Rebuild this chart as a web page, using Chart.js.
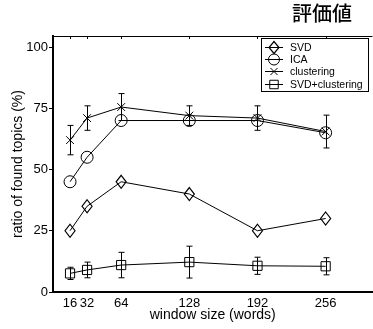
<!DOCTYPE html>
<html>
<head>
<meta charset="utf-8">
<script src="https://cdn.jsdelivr.net/npm/chart.js@4/dist/chart.umd.min.js"></script>
<style>
  html, body { margin: 0; padding: 0; background: #fff; overflow: hidden; }
  #wrap { width: 380px; height: 329px; position: relative; }
</style>
</head>
<body>
<div id="wrap"><canvas id="c" width="380" height="329"></canvas></div>
<script>
// Window sizes (words) on the x axis
const windowSizes = [16, 32, 64, 128, 192, 256];
const yTicks = [0, 25, 50, 75, 100];

// Ratio of found topics (%) per method
const svd = [25, 35, 45, 40, 25, 30];
const ica = [45, 55, 70, 70, 70, 65];
const clustering = [62, 71, 75.5, 72, 71, 65.5];
const clusteringErr = [6, 5, 5.5, 4, 5, 6.7];
const svdClustering = [7.6, 9, 11, 12.2, 10.7, 10.5];
const svdClusteringErr = [2.5, 3.2, 5.2, 6.5, 3.5, 3.5];

const seriesNames = ['SVD', 'ICA', 'clustering', 'SVD+clustering'];
const chartTitle = '評価値';
const xTitle = 'window size (words)';
const yTitle = 'ratio of found topics (%)';

const FONT = "'Liberation Sans', Arial, Helvetica, sans-serif";

// Hollow diamond, a little taller than wide
function strokeDiamond(ctx, cx, cy, hw, hh) {
  ctx.beginPath();
  ctx.moveTo(cx, cy - hh);
  ctx.lineTo(cx + hw, cy);
  ctx.lineTo(cx, cy + hh);
  ctx.lineTo(cx - hw, cy);
  ctx.closePath();
  ctx.stroke();
}

const toPoints = arr => arr.map((v, i) => ({ x: windowSizes[i], y: v }));

const markerStyles = [
  { pointStyle: 'rectRot', radius: 0, diamond: true },
  { pointStyle: 'circle', radius: 6 },
  { pointStyle: 'crossRot', radius: 5.5 },
  { pointStyle: 'rect', radius: 6.5 }
];

function series(label, data, k, err) {
  return {
    label,
    data: toPoints(data),
    errors: err || null,
    diamond: !!markerStyles[k].diamond,
    borderColor: '#000',
    borderWidth: 1,
    backgroundColor: 'transparent',
    pointStyle: markerStyles[k].pointStyle,
    pointRadius: markerStyles[k].radius,
    pointBorderColor: '#000',
    pointBackgroundColor: 'rgba(0,0,0,0)',
    pointBorderWidth: 1,
    tension: 0,
    fill: false
  };
}

// Diamond markers and vertical error bars, placed through the chart scales
const extraMarks = {
  id: 'extraMarks',
  afterDatasetsDraw(chart) {
    const { ctx, scales: { x, y } } = chart;
    ctx.save();
    ctx.strokeStyle = '#000';
    chart.data.datasets.forEach(ds => {
      if (ds.diamond) {
        ctx.lineWidth = 1.2;
        ds.data.forEach(p => {
          strokeDiamond(ctx, x.getPixelForValue(p.x), y.getPixelForValue(p.y), 5, 6.5);
        });
      }
      if (!ds.errors) return;
      ctx.lineWidth = 1;
      ds.data.forEach((p, i) => {
        const e = ds.errors[i];
        const px = Math.round(x.getPixelForValue(p.x)) + 0.5;
        const top = y.getPixelForValue(p.y + e);
        const bot = y.getPixelForValue(p.y - e);
        ctx.beginPath();
        ctx.moveTo(px, top); ctx.lineTo(px, bot);
        ctx.moveTo(px - 3, top); ctx.lineTo(px + 3, top);
        ctx.moveTo(px - 3, bot); ctx.lineTo(px + 3, bot);
        ctx.stroke();
      });
    });
    ctx.restore();
  }
};

// Top frame line with inward ticks, the boxed legend and the heading
const decorations = {
  id: 'decorations',
  afterDraw(chart) {
    const { ctx, chartArea: a, scales: { x } } = chart;
    ctx.save();
    ctx.strokeStyle = '#000';
    ctx.lineWidth = 1;
    ctx.beginPath();
    ctx.moveTo(a.left, a.top + 0.5);
    ctx.lineTo(a.right, a.top + 0.5);
    windowSizes.forEach(v => {
      const px = Math.round(x.getPixelForValue(v)) + 0.5;
      ctx.moveTo(px, a.top);
      ctx.lineTo(px, a.top + 3);
    });
    ctx.stroke();

    // legend box
    const lx = 261.5, ly = 38.5, lw = 107, lh = 53;
    ctx.fillStyle = '#fff';
    ctx.fillRect(lx, ly, lw, lh);
    ctx.strokeRect(lx, ly, lw, lh);
    ctx.font = '10.5px ' + FONT;
    ctx.textBaseline = 'middle';
    ctx.textAlign = 'left';
    seriesNames.forEach((name, i) => {
      const cy = Math.round(47 + i * 12.2) + 0.5;
      ctx.strokeStyle = '#000';
      ctx.lineWidth = 1;
      ctx.beginPath();
      ctx.moveTo(265, cy);
      ctx.lineTo(283, cy);
      ctx.stroke();
      const ms = markerStyles[i];
      if (ms.diamond) {
        ctx.lineWidth = 1.2;
        strokeDiamond(ctx, 274, cy, 5, 6);
      } else {
        ctx.fillStyle = 'rgba(0,0,0,0)';
        Chart.helpers.drawPoint(ctx, {
          pointStyle: ms.pointStyle,
          radius: ms.radius - 0.5,
          rotation: 0,
          borderWidth: 1
        }, 274, cy);
      }
      ctx.fillStyle = '#000';
      ctx.fillText(name, 290, cy + 0.5);
    });

    ctx.fillStyle = '#000';
    ctx.font = "500 20px 'Noto Sans CJK JP', sans-serif";
    ctx.textAlign = 'center';
    ctx.textBaseline = 'middle';
    ctx.fillText(chartTitle, 322, 13);
    ctx.restore();
  }
};

new Chart(document.getElementById('c'), {
  type: 'line',
  data: {
    datasets: [
      series(seriesNames[0], svd, 0),
      series(seriesNames[1], ica, 1),
      series(seriesNames[2], clustering, 2, clusteringErr),
      series(seriesNames[3], svdClustering, 3, svdClusteringErr)
    ]
  },
  options: {
    responsive: false,
    animation: false,
    layout: { padding: { left: 0, top: 36, right: 3.6, bottom: 0 } },
    plugins: {
      legend: { display: false },
      tooltip: { enabled: false },
      title: { display: false }
    },
    scales: {
      x: {
        type: 'linear',
        min: 0,
        max: 300,
        afterBuildTicks: s => { s.ticks = windowSizes.map(v => ({ value: v })); },
        afterFit: s => { s.height = 37; },
        grid: { display: false, drawTicks: false },
        border: { display: true, color: '#000', width: 2 },
        ticks: {
          color: '#000',
          font: { family: FONT, size: 13 },
          padding: 4,
          maxRotation: 0,
          autoSkip: false
        },
        title: {
          display: true,
          text: xTitle,
          color: '#000',
          font: { family: FONT, size: 14 },
          padding: { top: 0, bottom: 5.6 }
        }
      },
      y: {
        min: 0,
        max: 104.5,
        afterBuildTicks: s => { s.ticks = yTicks.map(v => ({ value: v })); },
        afterFit: s => { s.width = 53; },
        grid: {
          display: true,
          drawOnChartArea: false,
          drawTicks: true,
          tickLength: 4,
          color: '#000',
          lineWidth: 1
        },
        border: { display: true, color: '#000', width: 2 },
        ticks: {
          color: '#000',
          font: { family: FONT, size: 13 },
          padding: 1
        },
        title: {
          display: true,
          text: yTitle,
          color: '#000',
          font: { family: FONT, size: 14 },
          padding: { top: 10, bottom: 0 }
        }
      }
    }
  },
  plugins: [extraMarks, decorations]
});
</script>
</body>
</html>
